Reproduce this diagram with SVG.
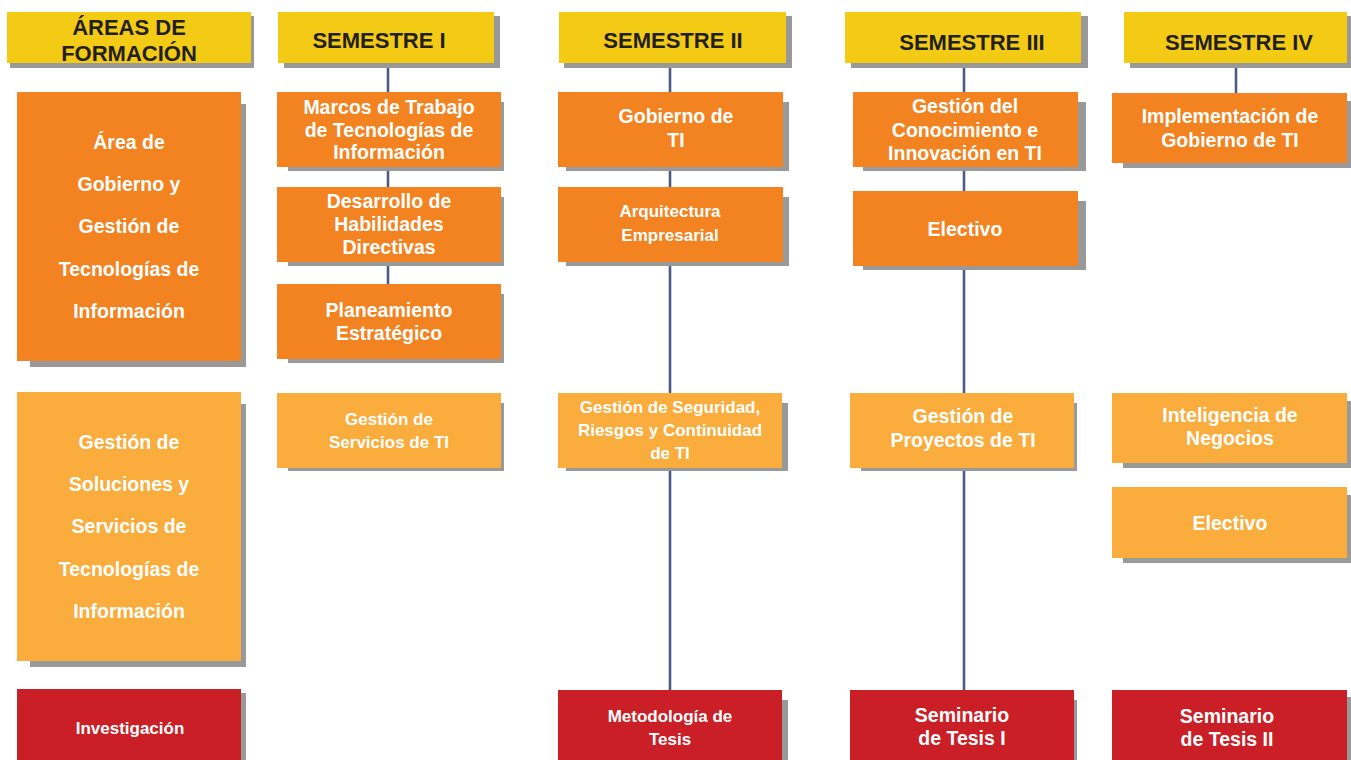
<svg xmlns="http://www.w3.org/2000/svg" width="1351" height="760" viewBox="0 0 1351 760">
  <style>
    text { font-family: "Liberation Sans", Arial, Helvetica, sans-serif; font-weight: bold; text-anchor: middle; }
    .sh { fill: #999999; }
    .hdr { fill: #F4CB14; }
    .core { fill: #F38220; }
    .svc { fill: #FAAC3C; }
    .res { fill: #CA1F26; }
    .ht { fill: #231F20; font-size: 22px; }
    .t { fill: #FFFFFF; font-size: 19.5px; }
    .s { fill: #FFFFFF; font-size: 17px; }
    .link { stroke: #4A5B87; stroke-width: 2.6; fill: none; }
  </style>
  <rect width="1351" height="760" fill="#FFFFFF"/>

  <!-- vertical links between semester blocks -->
  <g id="connectors">
    <line class="link" x1="388" y1="63" x2="388" y2="92"/>
    <line class="link" x1="388" y1="167" x2="388" y2="187"/>
    <line class="link" x1="388" y1="262" x2="388" y2="284"/>
    <line class="link" x1="670" y1="63" x2="670" y2="92"/>
    <line class="link" x1="670" y1="167" x2="670" y2="187"/>
    <line class="link" x1="670" y1="262" x2="670" y2="393"/>
    <line class="link" x1="670" y1="468" x2="670" y2="690"/>
    <line class="link" x1="964" y1="63" x2="964" y2="92"/>
    <line class="link" x1="964" y1="167" x2="964" y2="191"/>
    <line class="link" x1="964" y1="266" x2="964" y2="393"/>
    <line class="link" x1="964" y1="468" x2="964" y2="690"/>
    <line class="link" x1="1236" y1="63" x2="1236" y2="93"/>
  </g>

  <!-- headers -->
  <g id="h-areas">
    <rect class="sh" x="10" y="16" width="244" height="52"/>
    <rect class="hdr" x="7" y="12" width="244" height="51"/>
    <text class="ht" x="129" y="35">ÁREAS DE</text>
    <text class="ht" x="129" y="61">FORMACIÓN</text>
  </g>
  <g id="h-sem1">
    <rect class="sh" x="284" y="16" width="216" height="52"/>
    <rect class="hdr" x="278" y="12" width="216" height="51"/>
    <text class="ht" x="379" y="48">SEMESTRE I</text>
  </g>
  <g id="h-sem2">
    <rect class="sh" x="564" y="16" width="228" height="52"/>
    <rect class="hdr" x="559" y="12" width="227" height="51"/>
    <text class="ht" x="673" y="48">SEMESTRE II</text>
  </g>
  <g id="h-sem3">
    <rect class="sh" x="851" y="16" width="237" height="52"/>
    <rect class="hdr" x="845" y="12" width="236" height="51"/>
    <text class="ht" x="972" y="50">SEMESTRE III</text>
  </g>
  <g id="h-sem4">
    <rect class="sh" x="1130" y="16" width="221" height="52"/>
    <rect class="hdr" x="1124" y="12" width="223" height="51"/>
    <text class="ht" x="1239" y="50">SEMESTRE IV</text>
  </g>

  <!-- training areas -->
  <g id="area-gobierno">
    <rect class="sh" x="30" y="104" width="216" height="263"/>
    <rect class="core" x="17" y="92" width="224" height="269"/>
    <text class="t" x="129" y="149">Área de</text>
    <text class="t" x="129" y="191">Gobierno y</text>
    <text class="t" x="129" y="233">Gestión de</text>
    <text class="t" x="129" y="276">Tecnologías de</text>
    <text class="t" x="129" y="318">Información</text>
  </g>
  <g id="area-soluciones">
    <rect class="sh" x="30" y="404" width="216" height="263"/>
    <rect class="svc" x="17" y="392" width="224" height="269"/>
    <text class="t" x="129" y="449">Gestión de</text>
    <text class="t" x="129" y="491">Soluciones y</text>
    <text class="t" x="129" y="533">Servicios de</text>
    <text class="t" x="129" y="576">Tecnologías de</text>
    <text class="t" x="129" y="618">Información</text>
  </g>
  <g id="area-investigacion">
    <rect class="sh" x="30" y="693" width="216" height="67"/>
    <rect class="res" x="17" y="689" width="224" height="71"/>
    <text class="s" x="130" y="734">Investigación</text>
  </g>

  <!-- semester I -->
  <g id="s1-marcos">
    <rect class="sh" x="288" y="102" width="216" height="69"/>
    <rect class="core" x="277" y="92" width="224" height="75"/>
    <text class="t" x="389" y="114">Marcos de Trabajo</text>
    <text class="t" x="389" y="137">de Tecnologías de</text>
    <text class="t" x="389" y="159">Información</text>
  </g>
  <g id="s1-habilidades">
    <rect class="sh" x="288" y="197" width="216" height="69"/>
    <rect class="core" x="277" y="187" width="224" height="75"/>
    <text class="t" x="389" y="208">Desarrollo de</text>
    <text class="t" x="389" y="231">Habilidades</text>
    <text class="t" x="389" y="254">Directivas</text>
  </g>
  <g id="s1-planeamiento">
    <rect class="sh" x="288" y="294" width="216" height="69"/>
    <rect class="core" x="277" y="284" width="224" height="75"/>
    <text class="t" x="389" y="317">Planeamiento</text>
    <text class="t" x="389" y="340">Estratégico</text>
  </g>
  <g id="s1-servicios">
    <rect class="sh" x="288" y="403" width="216" height="68"/>
    <rect class="svc" x="277" y="393" width="224" height="75"/>
    <text class="s" x="389" y="425">Gestión de</text>
    <text class="s" x="389" y="448">Servicios de TI</text>
  </g>

  <!-- semester II -->
  <g id="s2-gobierno">
    <rect class="sh" x="566" y="102" width="223" height="69"/>
    <rect class="core" x="558" y="92" width="225" height="75"/>
    <text class="t" x="676" y="123">Gobierno de</text>
    <text class="t" x="676" y="147">TI</text>
  </g>
  <g id="s2-arquitectura">
    <rect class="sh" x="566" y="197" width="223" height="69"/>
    <rect class="core" x="558" y="187" width="225" height="75"/>
    <text class="s" x="670" y="217">Arquitectura</text>
    <text class="s" x="670" y="241">Empresarial</text>
  </g>
  <g id="s2-seguridad">
    <rect class="sh" x="566" y="403" width="222" height="68"/>
    <rect class="svc" x="558" y="393" width="224" height="75"/>
    <text class="s" x="670" y="413">Gestión de Seguridad,</text>
    <text class="s" x="670" y="436">Riesgos y Continuidad</text>
    <text class="s" x="670" y="459">de TI</text>
  </g>
  <g id="s2-metodologia">
    <rect class="sh" x="566" y="700" width="222" height="60"/>
    <rect class="res" x="558" y="690" width="224" height="70"/>
    <text class="s" x="670" y="722">Metodología de</text>
    <text class="s" x="670" y="745">Tesis</text>
  </g>

  <!-- semester III -->
  <g id="s3-conocimiento">
    <rect class="sh" x="863" y="102" width="223" height="69"/>
    <rect class="core" x="853" y="92" width="225" height="75"/>
    <text class="t" x="965" y="113">Gestión del</text>
    <text class="t" x="965" y="137">Conocimiento e</text>
    <text class="t" x="965" y="160">Innovación en TI</text>
  </g>
  <g id="s3-electivo">
    <rect class="sh" x="863" y="201" width="223" height="69"/>
    <rect class="core" x="853" y="191" width="225" height="75"/>
    <text class="t" x="965" y="236">Electivo</text>
  </g>
  <g id="s3-proyectos">
    <rect class="sh" x="861" y="403" width="216" height="68"/>
    <rect class="svc" x="850" y="393" width="224" height="75"/>
    <text class="t" x="963" y="423">Gestión de</text>
    <text class="t" x="963" y="447">Proyectos de TI</text>
  </g>
  <g id="s3-seminario">
    <rect class="sh" x="861" y="700" width="216" height="60"/>
    <rect class="res" x="850" y="690" width="224" height="70"/>
    <text class="t" x="962" y="722">Seminario</text>
    <text class="t" x="962" y="745">de Tesis I</text>
  </g>

  <!-- semester IV -->
  <g id="s4-implementacion">
    <rect class="sh" x="1123" y="101" width="228" height="67"/>
    <rect class="core" x="1112" y="93" width="235" height="70"/>
    <text class="t" x="1230" y="123">Implementación de</text>
    <text class="t" x="1230" y="147">Gobierno de TI</text>
  </g>
  <g id="s4-inteligencia">
    <rect class="sh" x="1123" y="401" width="228" height="67"/>
    <rect class="svc" x="1112" y="393" width="235" height="70"/>
    <text class="t" x="1230" y="422">Inteligencia de</text>
    <text class="t" x="1230" y="445">Negocios</text>
  </g>
  <g id="s4-electivo">
    <rect class="sh" x="1123" y="495" width="228" height="68"/>
    <rect class="svc" x="1112" y="487" width="235" height="71"/>
    <text class="t" x="1230" y="530">Electivo</text>
  </g>
  <g id="s4-seminario">
    <rect class="sh" x="1123" y="697" width="228" height="63"/>
    <rect class="res" x="1112" y="690" width="235" height="70"/>
    <text class="t" x="1227" y="723">Seminario</text>
    <text class="t" x="1227" y="746">de Tesis II</text>
  </g>
</svg>
